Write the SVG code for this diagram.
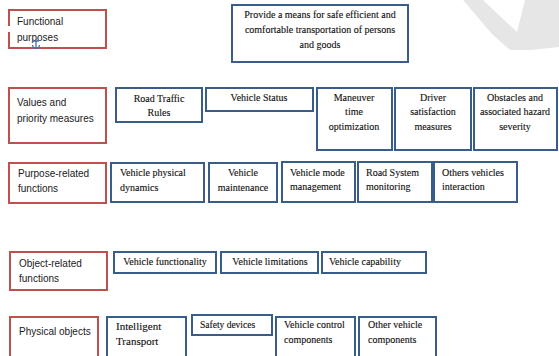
<svg xmlns="http://www.w3.org/2000/svg" width="559" height="356" viewBox="0 0 559 356">
<style>
.red{fill:#fff;stroke:#c0504d;stroke-width:2}
.blue{fill:#fff;stroke:#385d8a;stroke-width:2}
.sans{font-family:"Liberation Sans",Arial,sans-serif;font-size:10px;fill:#1a1a1a}
.serif{font-family:"Liberation Serif","Times New Roman",serif;font-size:10px;fill:#111;stroke:#111;stroke-width:0.12}
.c{text-anchor:middle}
</style>
<rect width="559" height="356" fill="#fff"/>
<polygon points="463,0 483,0 517,32 525,0 559,0 559,47 530,50 510,50 492,34" fill="#e6e6e6"/>

<g id="functional-purposes">
<path d="M9,26 V10 H106 V48 H9 V32" fill="none" stroke="#c0504d" stroke-width="2"/>
<text class="sans" x="17" y="25">Functional</text>
<text class="sans" x="17" y="41">purposes</text>
<path d="M36,39 V48 M33,41 H39 M32.5,45 Q33,48.5 36,48.5 Q39,48.5 39.5,45" fill="none" stroke="#3f72b5" stroke-width="1.3"/>
</g>
<g id="provide">
<rect class="blue" x="232" y="5" width="176" height="57"/>
<text class="serif c" x="320" y="18">Provide a means for safe efficient and</text>
<text class="serif c" x="320" y="33">comfortable transportation of persons</text>
<text class="serif c" x="320" y="48">and goods</text>
</g>

<g id="values">
<rect class="red" x="9" y="88" width="97" height="55"/>
<text class="sans" x="17" y="106">Values and</text>
<text class="sans" x="17" y="122">priority measures</text>
</g>
<g id="road-traffic-rules">
<rect class="blue" x="116" y="88" width="86" height="34"/>
<text class="serif c" x="159" y="102">Road Traffic</text>
<text class="serif c" x="159" y="116">Rules</text>
</g>
<g id="vehicle-status">
<rect class="blue" x="206" y="88" width="107" height="23"/>
<text class="serif c" x="259" y="101">Vehicle Status</text>
</g>
<g id="maneuver">
<rect class="blue" x="317" y="88" width="75" height="62"/>
<text class="serif c" x="354" y="101">Maneuver</text>
<text class="serif c" x="354" y="115">time</text>
<text class="serif c" x="354" y="130">optimization</text>
</g>
<g id="driver">
<rect class="blue" x="395" y="88" width="76" height="62"/>
<text class="serif c" x="433" y="101">Driver</text>
<text class="serif c" x="433" y="115">satisfaction</text>
<text class="serif c" x="433" y="130">measures</text>
</g>
<g id="obstacles">
<rect class="blue" x="474" y="88" width="83" height="62"/>
<text class="serif c" x="515" y="101">Obstacles and</text>
<text class="serif c" x="515" y="115">associated hazard</text>
<text class="serif c" x="515" y="130">severity</text>
</g>

<g id="purpose-related">
<rect class="red" x="9" y="163" width="97" height="40"/>
<text class="sans" x="18" y="177">Purpose-related</text>
<text class="sans" x="18" y="192">functions</text>
</g>
<g id="vehicle-physical-dynamics">
<rect class="blue" x="111" y="163" width="93" height="39"/>
<text class="serif" x="120" y="176">Vehicle physical</text>
<text class="serif" x="120" y="191">dynamics</text>
</g>
<g id="vehicle-maintenance">
<rect class="blue" x="209" y="163" width="68" height="39"/>
<text class="serif c" x="243" y="176">Vehicle</text>
<text class="serif c" x="243" y="191">maintenance</text>
</g>
<g id="vehicle-mode">
<rect class="blue" x="282" y="162" width="73" height="40"/>
<text class="serif" x="290" y="176">Vehicle mode</text>
<text class="serif" x="290" y="190">management</text>
</g>
<g id="road-system">
<rect class="blue" x="358" y="162" width="74" height="40"/>
<text class="serif" x="366" y="176">Road System</text>
<text class="serif" x="366" y="190">monitoring</text>
</g>
<g id="others-vehicles">
<rect class="blue" x="434" y="162" width="83" height="40"/>
<text class="serif" x="442" y="176">Others vehicles</text>
<text class="serif" x="442" y="190">interaction</text>
</g>

<g id="object-related">
<rect class="red" x="10" y="252" width="97" height="38"/>
<text class="sans" x="19" y="267">Object-related</text>
<text class="sans" x="19" y="282">functions</text>
</g>
<g id="vehicle-functionality">
<rect class="blue" x="114" y="252" width="102" height="21"/>
<text class="serif c" x="165" y="265">Vehicle functionality</text>
</g>
<g id="vehicle-limitations">
<rect class="blue" x="221" y="252" width="97" height="21"/>
<text class="serif c" x="270" y="265">Vehicle limitations</text>
</g>
<g id="vehicle-capability">
<rect class="blue" x="322" y="252" width="104" height="21"/>
<text class="serif" x="329" y="265">Vehicle capability</text>
</g>

<g id="physical-objects">
<rect class="red" x="10" y="317" width="88" height="45"/>
<text class="sans" x="19" y="335">Physical objects</text>
</g>
<g id="intelligent-transport">
<rect class="blue" x="107" y="317" width="79" height="45"/>
<text class="serif" x="116" y="330" style="font-size:11px">Intelligent</text>
<text class="serif" x="116" y="345" style="font-size:11px">Transport</text>
</g>
<g id="safety-devices">
<rect class="blue" x="192" y="315" width="80" height="20"/>
<text class="serif" x="200" y="328" style="font-size:9.5px">Safety devices</text>
</g>
<g id="vehicle-control">
<rect class="blue" x="276" y="317" width="79" height="45"/>
<text class="serif" x="284" y="328">Vehicle control</text>
<text class="serif" x="284" y="343">components</text>
</g>
<g id="other-vehicle">
<rect class="blue" x="359" y="317" width="77" height="45"/>
<text class="serif" x="368" y="328">Other vehicle</text>
<text class="serif" x="368" y="343">components</text>
</g>
<g id="connectors"></g>
</svg>
